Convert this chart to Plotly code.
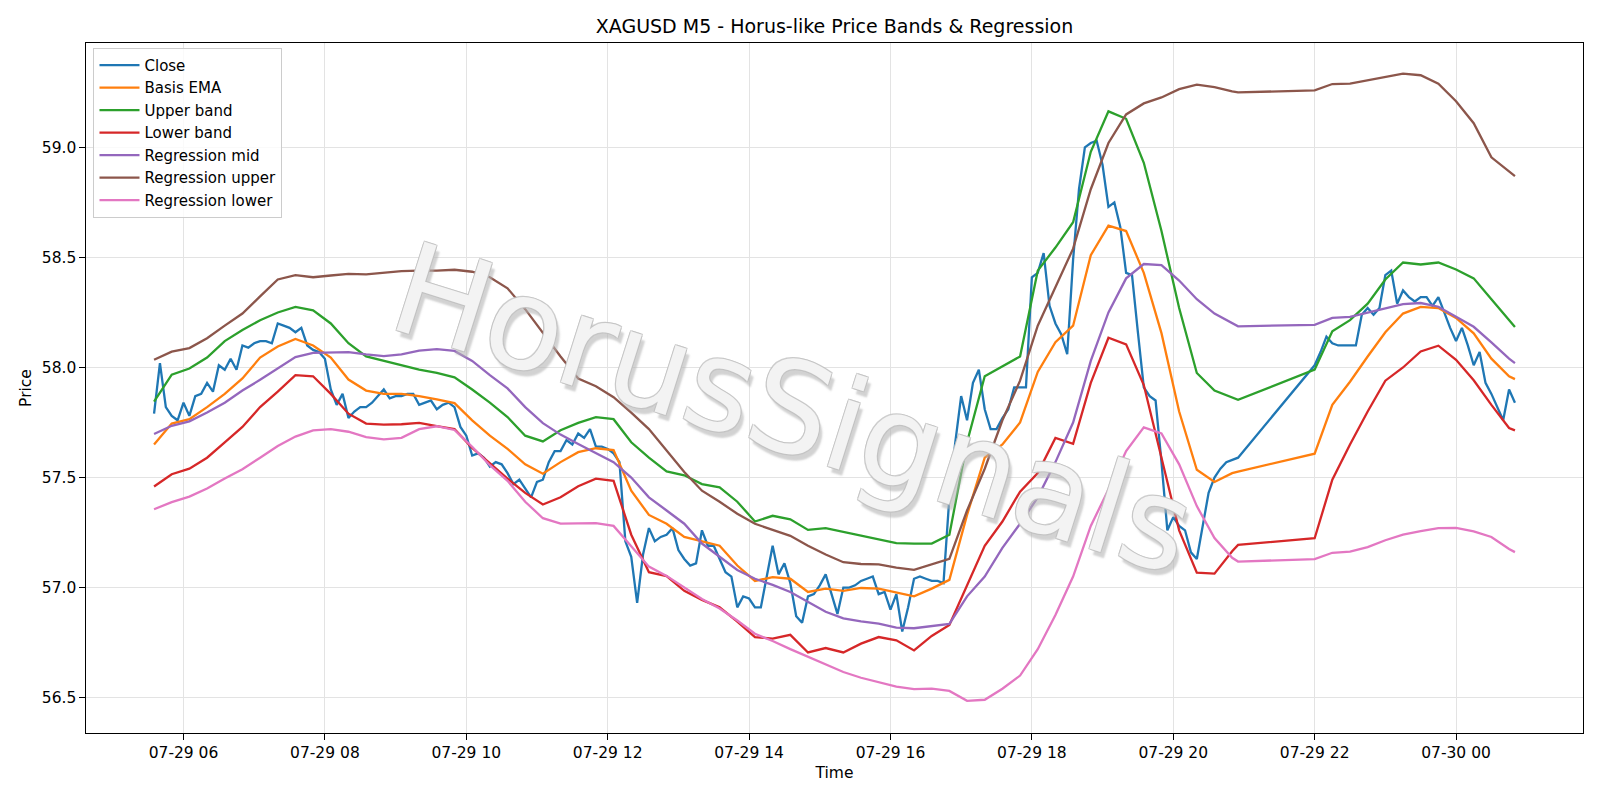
import pandas as pd
import plotly.graph_objects as go

# ---------------- data ----------------
# Close, 5-minute bars: session 1 (05:35-20:55) and session 2 (22:00-00:50)
close_s1 = [
    57.79, 58.02, 57.82, 57.78, 57.76, 57.84, 57.78, 57.87, 57.88, 57.93,
    57.89, 58.01, 57.99, 58.04, 57.99, 58.10, 58.09, 58.11, 58.12, 58.12,
    58.11, 58.20, 58.19, 58.18, 58.16, 58.18, 58.10, 58.08, 58.07, 58.04,
    57.90, 57.83, 57.88, 57.77, 57.80, 57.82, 57.82, 57.84, 57.87, 57.90,
    57.86, 57.87, 57.87, 57.88, 57.88, 57.83, 57.84, 57.85, 57.81, 57.83,
    57.84, 57.82, 57.73, 57.69, 57.60, 57.61, 57.59, 57.55, 57.57, 57.56,
    57.52, 57.47, 57.49, 57.45, 57.41, 57.48, 57.49, 57.57, 57.62, 57.62,
    57.67, 57.65, 57.70, 57.68, 57.72, 57.64, 57.64, 57.63, 57.61, 57.57,
    57.21, 57.14, 56.93, 57.15, 57.27, 57.21, 57.23, 57.24, 57.27, 57.17,
    57.13, 57.10, 57.11, 57.26, 57.19, 57.19, 57.13, 57.07, 57.05, 56.91,
    56.96, 56.95, 56.91, 56.91, 57.05, 57.19, 57.06, 57.11, 57.02, 56.87,
    56.84, 56.96, 56.97, 57.01, 57.06, 56.97, 56.88, 57.00, 57.00, 57.01,
    57.03, 57.04, 57.05, 56.97, 56.98, 56.90, 56.97, 56.80, 56.91, 57.04,
    57.05, 57.04, 57.03, 57.03, 57.02, 57.41, 57.66, 57.87, 57.76, 57.93,
    57.99, 57.81, 57.72, 57.72, 57.77, 57.81, 57.91, 57.91, 57.91, 58.41,
    58.43, 58.52, 58.28, 58.20, 58.15, 58.06, 58.49, 58.81, 59.00, 59.02,
    59.03, 58.92, 58.73, 58.75, 58.64, 58.43, 58.42, 58.16, 57.91, 57.87,
    57.85, 57.57, 57.26, 57.32, 57.28, 57.26, 57.16, 57.13, 57.29, 57.43,
    57.50, 57.54, 57.57, 57.58, 57.59,
]
close_s2 = [
    58.01, 58.07, 58.14, 58.11, 58.10, 58.10, 58.10, 58.10, 58.24, 58.27,
    58.24, 58.27, 58.42, 58.44, 58.29, 58.35, 58.32, 58.30, 58.32, 58.32,
    58.28, 58.32, 58.25, 58.18, 58.12, 58.18, 58.10, 58.01, 58.07, 57.93,
    57.88, 57.82, 57.76, 57.90, 57.84,
]

# Band / regression values, read every 15 minutes (plus the last bar of each session)
basis_s1 = [
    57.65, 57.745, 57.765, 57.82, 57.88, 57.95, 58.045, 58.095, 58.13, 58.10,
    58.045, 57.945, 57.895, 57.88, 57.88, 57.87, 57.855, 57.838, 57.76, 57.69,
    57.63, 57.56, 57.517, 57.57, 57.615, 57.633, 57.625, 57.44, 57.33, 57.29,
    57.23, 57.21, 57.19, 57.10, 57.03, 57.047, 57.04, 56.98, 56.995, 56.985,
    56.998, 56.995, 56.977, 56.96, 56.995, 57.035, 57.33, 57.59, 57.65, 57.75,
    57.98, 58.115, 58.19, 58.51, 58.645, 58.62, 58.43, 58.156, 57.80, 57.535,
    57.48, 57.52, 57.527,
]
basis_s2 = [57.608, 57.83, 57.935, 58.05, 58.16, 58.245, 58.275, 58.27, 58.225,
            58.155, 58.04, 57.96, 57.947]

upper_s1 = [
    57.845, 57.967, 57.995, 58.045, 58.12, 58.17, 58.215, 58.25, 58.275, 58.26,
    58.20, 58.11, 58.05, 58.03, 58.01, 57.99, 57.975, 57.955, 57.90, 57.84,
    57.775, 57.69, 57.664, 57.715, 57.748, 57.774, 57.765, 57.66, 57.59, 57.528,
    57.51, 57.47, 57.455, 57.39, 57.30, 57.326, 57.31, 57.262, 57.27, 57.253,
    57.237, 57.222, 57.202, 57.20, 57.20, 57.24, 57.66, 57.96, 58.005, 58.05,
    58.44, 58.545, 58.66, 58.98, 59.164, 59.13, 58.93, 58.62, 58.27, 57.975,
    57.895, 57.865, 57.853,
]
upper_s2 = [57.99, 58.165, 58.215, 58.29, 58.40, 58.477, 58.468, 58.477, 58.445,
            58.405, 58.31, 58.215, 58.184]

lower_s1 = [
    57.459, 57.515, 57.54, 57.59, 57.66, 57.73, 57.82, 57.89, 57.965, 57.96,
    57.88, 57.79, 57.745, 57.74, 57.742, 57.748, 57.733, 57.72, 57.635, 57.565,
    57.495, 57.43, 57.377, 57.41, 57.46, 57.495, 57.485, 57.24, 57.07, 57.052,
    56.985, 56.944, 56.91, 56.845, 56.775, 56.768, 56.785, 56.705, 56.725, 56.705,
    56.745, 56.775, 56.76, 56.714, 56.78, 56.83, 57.01, 57.19, 57.30, 57.436,
    57.52, 57.68, 57.653, 57.93, 58.135, 58.105, 57.92, 57.585, 57.26, 57.068,
    57.063, 57.165, 57.194,
]
lower_s2 = [57.224, 57.49, 57.65, 57.80, 57.94, 58.0, 58.073, 58.099, 58.035,
            57.942, 57.83, 57.725, 57.714]

reg_mid_s1 = [
    57.698, 57.735, 57.755, 57.795, 57.84, 57.895, 57.944, 57.995, 58.047, 58.066,
    58.068, 58.07, 58.06, 58.052, 58.06, 58.077, 58.083, 58.075, 58.03, 57.965,
    57.905, 57.82, 57.747, 57.695, 57.652, 57.612, 57.57, 57.50, 57.41, 57.35,
    57.29, 57.20, 57.14, 57.08, 57.04, 57.012, 56.98, 56.935, 56.89, 56.86,
    56.846, 56.836, 56.818, 56.815, 56.825, 56.835, 56.96, 57.05, 57.18, 57.29,
    57.41, 57.57, 57.75, 58.03, 58.25, 58.405, 58.47, 58.465, 58.395, 58.31,
    58.245, 58.20, 58.187,
]
reg_mid_s2 = [58.194, 58.225, 58.23, 58.25, 58.27, 58.288, 58.293, 58.276, 58.23,
              58.185, 58.114, 58.04, 58.02]

reg_up_s1 = [
    58.035, 58.072, 58.088, 58.133, 58.19, 58.245, 58.323, 58.40, 58.42, 58.41,
    58.418, 58.425, 58.423, 58.43, 58.438, 58.44, 58.44, 58.444, 58.435, 58.41,
    58.36, 58.265, 58.155, 58.05, 57.95, 57.915, 57.865, 57.795, 57.72, 57.62,
    57.525, 57.44, 57.39, 57.335, 57.29, 57.262, 57.235, 57.19, 57.15, 57.115,
    57.107, 57.105, 57.09, 57.08, 57.106, 57.13, 57.35, 57.54, 57.76, 57.94,
    58.19, 58.365, 58.54, 58.81, 59.02, 59.15, 59.20, 59.227, 59.265, 59.285,
    59.274, 59.255, 59.25,
]
reg_up_s2 = [59.259, 59.288, 59.29, 59.305, 59.322, 59.335, 59.328, 59.29, 59.21,
             59.11, 58.955, 58.89, 58.87]

reg_lo_s1 = [
    57.356, 57.388, 57.413, 57.45, 57.495, 57.538, 57.59, 57.643, 57.686, 57.714,
    57.72, 57.708, 57.684, 57.673, 57.68, 57.72, 57.733, 57.716, 57.64, 57.556,
    57.485, 57.39, 57.315, 57.29, 57.292, 57.293, 57.28, 57.19, 57.095, 57.053,
    57.0, 56.948, 56.905, 56.85, 56.79, 56.757, 56.72, 56.685, 56.65, 56.616,
    56.59, 56.569, 56.55, 56.538, 56.541, 56.53, 56.485, 56.49, 56.54, 56.60,
    56.72, 56.875, 57.05, 57.28, 57.445, 57.62, 57.728, 57.70, 57.56, 57.37,
    57.225, 57.135, 57.118,
]
reg_lo_s2 = [57.129, 57.158, 57.163, 57.184, 57.215, 57.24, 57.256, 57.27, 57.271,
             57.255, 57.23, 57.175, 57.161]

# ---------------- time axes ----------------
close_times = (list(pd.date_range("2025-07-29 05:35", "2025-07-29 20:55", freq="5min"))
               + list(pd.date_range("2025-07-29 22:00", "2025-07-30 00:50", freq="5min")))
band_times = (list(pd.date_range("2025-07-29 05:35", "2025-07-29 20:50", freq="15min"))
              + [pd.Timestamp("2025-07-29 20:55")]
              + list(pd.date_range("2025-07-29 22:00", "2025-07-30 00:45", freq="15min"))
              + [pd.Timestamp("2025-07-30 00:50")])

close = close_s1 + close_s2
series = [
    ("Close", close_times, close, "#1f77b4"),
    ("Basis EMA", band_times, basis_s1 + basis_s2, "#ff7f0e"),
    ("Upper band", band_times, upper_s1 + upper_s2, "#2ca02c"),
    ("Lower band", band_times, lower_s1 + lower_s2, "#d62728"),
    ("Regression mid", band_times, reg_mid_s1 + reg_mid_s2, "#9467bd"),
    ("Regression upper", band_times, reg_up_s1 + reg_up_s2, "#8c564b"),
    ("Regression lower", band_times, reg_lo_s1 + reg_lo_s2, "#e377c2"),
]

fig = go.Figure()
for name, xs, ys, col in series:
    n = min(len(xs), len(ys))
    fig.add_trace(go.Scatter(x=xs[:n], y=ys[:n], mode="lines", name=name,
                             line=dict(color=col, width=2.3)))

FONT = "DejaVu Sans, Arial, sans-serif"
FS = 15.5
axis_common = dict(
    showline=True, linecolor="black", linewidth=1.1, mirror=True,
    ticks="outside", ticklen=5.5, tickwidth=1.1, tickcolor="black",
    showgrid=True, gridcolor="#e3e3e3", gridwidth=1, zeroline=False,
    tickfont=dict(size=FS, color="black", family=FONT),
)

fig.update_layout(
    width=1600, height=800,
    margin=dict(l=86, r=17, t=43, b=67, autoexpand=False),
    paper_bgcolor="white", plot_bgcolor="white",
    font=dict(family=FONT, size=FS, color="black"),
    title=dict(text="XAGUSD M5 - Horus-like Price Bands & Regression",
               x=0.5, xref="paper", xanchor="center",
               y=1 - 26 / 800, yref="container", yanchor="middle",
               font=dict(size=19, family=FONT, color="black")),
    xaxis=dict(type="date",
               range=["2025-07-29 04:37:15", "2025-07-30 01:47:45"],
               tick0="2025-07-29 00:00", dtick=2 * 3600 * 1000,
               tickformat="%m-%d %H",
               title=dict(text="Time", standoff=5, font=dict(size=FS, family=FONT)),
               **axis_common),
    yaxis=dict(range=[56.339, 59.4745], dtick=0.5, tick0=56.5, tickformat=".1f",
               title=dict(text="Price", standoff=6, font=dict(size=FS, family=FONT)),
               **axis_common),
    legend=dict(x=0.005, y=0.993, xanchor="left", yanchor="top",
                bgcolor="rgba(255,255,255,0.8)", bordercolor="#cccccc", borderwidth=1,
                font=dict(size=15, family=FONT, color="black"),
                itemwidth=40),
    showlegend=True,
)

# watermark
fig.add_annotation(
    text="HorusSignals", xref="paper", yref="paper", x=0.4725, y=0.47,
    showarrow=False, textangle=17.5,
    font=dict(size=127, family="DejaVu Sans, sans-serif",
              color="rgba(255,255,255,0.8)",
              shadow="1px 1px 0 #c2c2c2, -1px -1px 0 #c2c2c2, 1px -1px 0 #c2c2c2, -1px 1px 0 #c2c2c2, 5px 5px 2px rgba(180,180,180,0.75)"),
)

fig.write_html("out.html")
